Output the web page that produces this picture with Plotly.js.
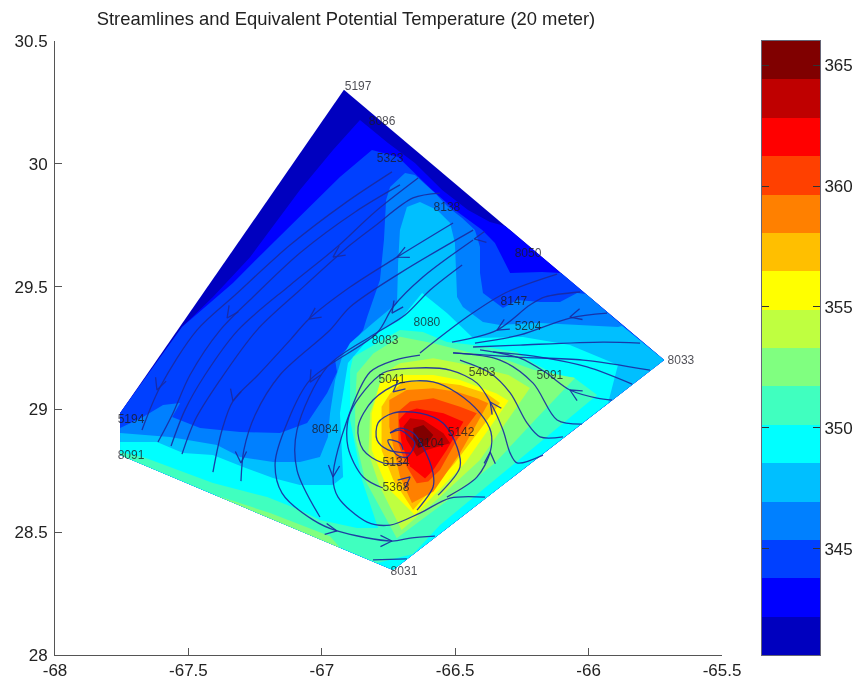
<!DOCTYPE html>
<html><head><meta charset="utf-8">
<script src="https://cdn.plot.ly/plotly-3.0.1.min.js"></script>
<style>html,body{margin:0;padding:0;background:#fff}#plot{width:858px;height:680px;filter:blur(0.4px)}</style>
</head><body><div id="plot"></div>
<script>
// Equivalent potential temperature bands (K), outlines, lowest band first
const bandColors=['#0000BF','#0000FF','#0040FF','#0080FF','#00BFFF','#00FFFF','#40FFBF','#80FF80','#BFFF40','#FFFF00','#FFBF00','#FF8000','#FF4000','#FF0000','#BF0000','#800000'];
const colorbarEdges=[340.6,342.19,343.78,345.36,346.95,348.54,350.13,351.71,353.3,354.89,356.48,358.06,359.65,361.24,362.83,364.41,366];
const b0X=[-66.917,-65.717,-66.733,-67.756,-67.756];
const b0Y=[30.301,29.201,28.346,28.814,28.985];
const b1X=[-67.524,-67.408,-67.269,-67.082,-66.958,-66.857,-66.752,-66.651,-66.549,-66.452,-66.370,-66.313,-65.717,-66.733,-67.756,-67.756];
const b1Y=[29.335,29.458,29.620,29.893,30.056,30.178,30.085,30.003,29.893,29.812,29.763,29.747,29.201,28.346,28.814,28.985];
const b2X=[-67.756,-67.524,-67.333,-67.183,-66.932,-66.812,-66.714,-66.587,-66.501,-66.399,-66.351,-66.294,-66.175,-66.103,-65.717,-66.733,-67.756];
const b2Y=[28.985,29.335,29.515,29.678,29.946,30.056,30.028,29.893,29.812,29.730,29.678,29.555,29.559,29.555,29.201,28.346,28.814];
const b3X=[-67.756,-67.670,-67.595,-67.531,-67.561,-67.456,-67.306,-67.157,-67.055,-66.980,-66.943,-66.950,-66.883,-66.845,-66.830,-66.782,-66.767,-66.759,-66.744,-66.688,-66.651,-66.576,-66.527,-66.474,-66.426,-66.407,-66.407,-66.396,-66.321,-66.268,-66.182,-66.107,-66.043,-66.010,-65.875,-65.717,-66.733,-67.756];
const b3Y=[28.924,28.969,29.018,29.026,28.969,28.924,28.908,28.904,28.945,29.067,29.152,29.201,29.270,29.323,29.376,29.527,29.690,29.853,29.906,29.963,29.954,29.881,29.824,29.779,29.730,29.661,29.555,29.474,29.413,29.445,29.437,29.437,29.474,29.470,29.344,29.201,28.346,28.814];
const b4X=[-67.756,-67.569,-67.393,-67.306,-67.183,-67.082,-67.007,-66.977,-66.969,-66.950,-66.924,-66.894,-66.808,-66.718,-66.714,-66.707,-66.681,-66.632,-66.568,-66.519,-66.501,-66.493,-66.471,-66.396,-66.332,-66.182,-65.890,-65.875,-65.717,-66.733,-67.756];
const b4Y=[28.904,28.888,28.855,28.806,28.786,28.786,28.806,28.888,28.985,29.120,29.213,29.270,29.352,29.433,29.596,29.730,29.824,29.844,29.812,29.759,29.678,29.458,29.417,29.356,29.344,29.352,29.335,29.340,29.201,28.346,28.814];
const b5X=[-67.756,-67.618,-67.520,-67.408,-67.295,-67.183,-67.082,-66.958,-66.920,-66.932,-66.902,-66.819,-66.707,-66.624,-66.531,-66.433,-66.246,-66.070,-65.890,-65.927,-66.733,-67.756];
const b5Y=[28.867,28.867,28.822,28.814,28.765,28.721,28.692,28.692,28.725,28.985,29.189,29.295,29.364,29.474,29.392,29.291,29.295,29.262,29.181,29.026,28.346,28.814];
const b6X=[-67.756,-67.670,-67.408,-67.205,-67.082,-67.007,-66.868,-66.789,-66.849,-66.894,-66.894,-66.883,-66.707,-66.621,-66.531,-66.433,-66.268,-66.208,-66.107,-66.058,-65.968,-66.295,-66.557,-66.658,-66.793,-67.756];
const b6Y=[28.826,28.806,28.700,28.643,28.590,28.550,28.517,28.517,28.712,28.957,29.160,29.213,29.323,29.315,29.274,29.262,29.234,29.189,29.132,29.132,29.059,28.765,28.529,28.411,28.375,28.814];
const b7X=[-66.869,-66.807,-66.707,-66.582,-66.457,-66.307,-66.207,-66.051,-66.201,-66.351,-66.494,-66.719,-66.838,-66.875,-66.875];
const b7Y=[29.147,29.228,29.296,29.269,29.235,29.201,29.161,29.128,28.957,28.782,28.658,28.475,28.713,28.889,29.011];
const b7EdgeX=[-67.400,-67.194,-66.969,-66.932];
const b7EdgeY=[28.651,28.578,28.484,28.437];
const b8X=[-66.769,-66.707,-66.582,-66.482,-66.300,-66.220,-66.407,-66.557,-66.701,-66.782,-66.825,-66.819];
const b8Y=[29.147,29.188,29.208,29.188,29.140,29.087,28.794,28.643,28.509,28.685,28.821,28.984];
const b9X=[-66.782,-66.694,-66.582,-66.482,-66.345,-66.300,-66.463,-66.651,-66.757,-66.813,-66.813];
const b9Y=[29.106,29.140,29.140,29.120,29.065,29.035,28.782,28.570,28.685,28.835,28.984];
const b10X=[-66.744,-66.694,-66.582,-66.482,-66.382,-66.332,-66.501,-66.658,-66.732,-66.776,-66.776];
const b10Y=[29.065,29.113,29.113,29.099,29.065,29.026,28.782,28.590,28.713,28.835,29.011];
const b11X=[-66.747,-66.682,-66.582,-66.494,-66.419,-66.376,-66.482,-66.582,-66.662,-66.707,-66.732,-66.747];
const b11Y=[29.038,29.079,29.086,29.072,29.045,29.025,28.821,28.665,28.619,28.726,28.848,28.930];
const b12X=[-66.713,-66.669,-66.582,-66.482,-66.419,-66.494,-66.557,-66.601,-66.644,-66.682,-66.713];
const b12Y=[28.991,29.032,29.045,29.011,28.984,28.875,28.753,28.706,28.699,28.767,28.862];
const b13X=[-66.682,-66.644,-66.544,-66.469,-66.532,-66.582,-66.613,-66.669,-66.701,-66.711];
const b13Y=[28.991,29.004,28.984,28.950,28.835,28.753,28.719,28.767,28.862,28.957];
const b14X=[-66.694,-66.669,-66.619,-66.544,-66.519,-66.607,-66.644,-66.682];
const b14Y=[28.930,28.964,28.957,28.903,28.862,28.835,28.808,28.875];
const b15X=[-66.657,-66.619,-66.582,-66.607,-66.638,-66.657];
const b15Y=[28.923,28.936,28.896,28.855,28.842,28.875];

// Streamlines
const streamA=[[-66.737,-66.913,-67.119,-67.325,-67.468,-67.606,-67.674],[29.967,29.840,29.669,29.466,29.323,29.091,28.916]];
const streamB=[[-66.707,-66.875,-67.082,-67.250,-67.381,-67.494,-67.561,-67.614],[29.914,29.804,29.637,29.466,29.323,29.140,28.977,28.867]];
const streamC=[[-66.639,-66.801,-66.943,-67.119,-67.314,-67.438,-67.513,-67.565],[29.942,29.804,29.661,29.506,29.323,29.140,28.997,28.851]];
const streamD=[[-66.557,-66.658,-66.801,-66.894,-67.082,-67.243,-67.381,-67.475,-67.524],[29.881,29.861,29.747,29.669,29.486,29.323,29.120,28.957,28.818]];
const streamE=[[-66.508,-66.718,-66.894,-67.048,-67.119,-67.239,-67.333,-67.374,-67.408],[29.759,29.620,29.498,29.368,29.282,29.140,29.034,28.916,28.745]];
const streamF=[[-66.433,-66.707,-66.894,-66.969,-67.157,-67.250,-67.292,-67.303],[29.730,29.555,29.417,29.323,29.140,28.977,28.835,28.708]];
const streamG=[[-66.433,-66.621,-66.733,-66.793,-67.044,-67.130,-67.175,-67.149,-67.033,-66.943,-66.737,-66.669,-66.576],[29.690,29.539,29.417,29.311,29.120,28.945,28.782,28.659,28.550,28.505,28.464,28.476,28.484]];
const streamH=[[-66.474,-66.594,-66.688,-66.808,-66.980,-67.093,-67.093,-67.007],[29.588,29.486,29.384,29.303,29.173,28.916,28.753,28.562]];
const streamI=[[-66.632,-66.726,-66.819,-66.905,-66.958,-66.939,-66.830,-66.744,-66.632,-66.519,-66.388],[29.221,29.201,29.152,28.957,28.725,28.643,28.541,28.529,28.578,28.639,28.643]];
const streamK1=[[-66.632,-66.456,-66.313,-66.118],[29.230,29.376,29.474,29.551]];
const streamK2=[[-66.512,-66.343,-66.220,-66.163,-66.032],[29.274,29.323,29.425,29.458,29.478]];
const streamK3=[[-66.426,-66.257,-66.070,-65.931],[29.270,29.303,29.372,29.392]];
const streamK4=[[-66.433,-66.257,-65.946,-65.807],[29.254,29.262,29.274,29.270]];
const streamK5=[[-66.508,-66.268,-66.021,-65.770],[29.230,29.213,29.201,29.160]];
const streamK6=[[-66.358,-66.182,-66.006,-65.837],[29.234,29.213,29.173,29.103]];
const streamM0=[[-66.508,-66.332,-66.208,-66.118,-66.025],[29.230,29.201,29.107,28.957,28.940]];
const streamM1=[[-66.482,-66.369,-66.294,-66.231,-66.182,-66.096],[29.201,29.148,29.067,28.945,28.888,28.888]];
const streamHook=[[-66.171,-66.268,-66.294,-66.321,-66.369,-66.418,-66.519,-66.658,-66.771,-66.894,-66.902,-66.845,-66.771],[28.814,28.782,28.822,28.916,29.030,29.107,29.160,29.168,29.148,28.985,28.847,28.725,28.680]];
const streamM3=[[-65.912,-65.968,-66.070,-66.163,-66.257,-66.407],[29.038,29.046,29.079,29.152,29.209,29.242]];
const streamS1=[[-66.531,-66.418,-66.369,-66.366,-66.407,-66.493,-66.583,-66.707,-66.808,-66.864,-66.845,-66.771,-66.681],[28.643,28.725,28.826,28.908,28.985,29.067,29.112,29.107,29.038,28.928,28.835,28.782,28.782]];
const streamS2=[[-66.564,-66.482,-66.493,-66.546,-66.632,-66.733,-66.789,-66.793,-66.752,-66.669],[28.651,28.765,28.847,28.945,28.985,28.985,28.945,28.875,28.835,28.822]];
const streamS3=[[-66.643,-66.583,-66.583,-66.621,-66.658,-66.707,-66.744],[28.590,28.684,28.741,28.847,28.904,28.924,28.904]];
const streamS4=[[-66.744,-66.707,-66.669,-66.651,-66.681,-66.718,-66.752,-66.707,-66.695],[28.904,28.916,28.888,28.863,28.806,28.814,28.875,28.863,28.835]];
const streamT=[[-66.808,-66.681],[28.387,28.391]];

// Arrow heads on the streamlines: tip longitude, tip latitude, flow direction in degrees
const arrowLon=[-66.958,-67.355,-67.048,-66.718,-66.429,-66.737,-66.343,-66.070,-67.618,-67.333,-67.303,-67.044,-66.958,-66.943,-66.737,-66.733,-66.369,-66.369,-66.070,-66.669];
const arrowLat=[29.620,29.372,29.368,29.620,29.694,29.392,29.323,29.376,29.079,29.034,28.782,29.111,28.725,28.505,28.464,29.071,28.826,29.030,29.079,28.725];
const arrowDir=[215,235,215,205,190,235,210,195,250,255,270,240,265,350,0,220,88,125,150,40];

// Station labels
const stationIds=['5197','8086','5323','8138','8050','8147','5204','8080','8083','5041','5403','5091','8033','5142','8104','5134','5368','8084','5194','8091','8031'];
const stationLon=[-66.864,-66.774,-66.744,-66.531,-66.227,-66.280,-66.227,-66.606,-66.763,-66.737,-66.399,-66.145,-65.654,-66.478,-66.592,-66.722,-66.722,-66.988,-67.715,-67.715,-66.692];
const stationLat=[30.313,30.170,30.020,29.820,29.633,29.437,29.335,29.352,29.278,29.120,29.148,29.136,29.197,28.904,28.859,28.782,28.680,28.916,28.957,28.810,28.338];

const xTicks=[-68,-67.5,-67,-66.5,-66,-65.5];
const xTickText=['-68','-67.5','-67','-66.5','-66','-65.5'];
const yTicks=[28,28.5,29,29.5,30,30.5];
const yTickText=['28','28.5','29','29.5','30','30.5'];
const cbTicks=[345,350,355,360,365];

const bands=[[b0X,b0Y,0],[b1X,b1Y,1],[b2X,b2Y,2],[b3X,b3Y,3],[b4X,b4Y,4],[b5X,b5Y,5],[b6X,b6Y,6],[b7EdgeX,b7EdgeY,7],[b7X,b7Y,7],[b8X,b8Y,8],[b9X,b9Y,9],[b10X,b10Y,10],[b11X,b11Y,11],[b12X,b12Y,12],[b13X,b13Y,13],[b14X,b14Y,14],[b15X,b15Y,15]];
const traces=bands.map(b=>({type:'scatter',mode:'lines',x:b[0],y:b[1],fill:'toself',fillcolor:bandColors[b[2]],line:{width:0,color:bandColors[b[2]]},hoverinfo:'skip',showlegend:false}));

const streams=[streamA,streamB,streamC,streamD,streamE,streamF,streamG,streamH,streamI,streamK1,streamK2,streamK3,streamK4,streamK5,streamK6,streamM0,streamM1,streamHook,streamM3,streamS1,streamS2,streamS3,streamS4,streamT];
const streamColor='#1A2AA0';
streams.forEach(s=>traces.push({type:'scatter',mode:'lines',x:s[0],y:s[1],line:{color:streamColor,width:1.3,shape:'spline',smoothing:0.9},opacity:.9,hoverinfo:'skip',showlegend:false}));

const barbX=[],barbY=[];
arrowLon.forEach((lon,i)=>{
  const a=arrowDir[i]*Math.PI/180, s=26*Math.PI/180, bx=0.048, by=0.052;
  barbX.push(lon+bx*Math.cos(a+Math.PI-s),lon,lon+bx*Math.cos(a+Math.PI+s),null);
  barbY.push(arrowLat[i]+by*Math.sin(a+Math.PI-s),arrowLat[i],arrowLat[i]+by*Math.sin(a+Math.PI+s),null);
});
traces.push({type:'scatter',mode:'lines',x:barbX,y:barbY,line:{color:streamColor,width:1.3},opacity:.9,hoverinfo:'skip',showlegend:false});

traces.push({type:'scatter',mode:'text',x:stationLon,y:stationLat,text:stationIds,textposition:'middle center',textfont:{family:'Liberation Sans, Arial, sans-serif',size:12,color:'rgba(25,25,35,0.78)'},hoverinfo:'skip',showlegend:false});

traces.push({type:'bar',xaxis:'x2',yaxis:'y2',x:bandColors.map(()=>0.5),width:1,
  y:bandColors.map((c,i)=>colorbarEdges[i+1]-colorbarEdges[i]),base:colorbarEdges.slice(0,16),
  marker:{color:bandColors,line:{width:0}},hoverinfo:'skip',showlegend:false});

const axisColor='#555';
const tickFont={family:'Liberation Sans, Arial, sans-serif',size:17,color:'#222'};
const layout={
  width:858,height:680,paper_bgcolor:'#fff',plot_bgcolor:'#fff',showlegend:false,
  margin:{l:55,r:38,t:41,b:25,pad:0},
  title:{text:'Streamlines and Equivalent Potential Temperature (20 meter)',x:346/858,xanchor:'center',y:1-19/680,yanchor:'middle',font:{family:'Liberation Sans, Arial, sans-serif',size:18.4,color:'#222'}},
  xaxis:{domain:[0,667/765],range:[-68,-65.5],tickmode:'array',tickvals:xTicks,ticktext:xTickText,ticks:'inside',ticklen:7,tickcolor:axisColor,showgrid:false,zeroline:false,showline:true,linecolor:axisColor,linewidth:1,tickfont:tickFont},
  yaxis:{domain:[0,1],range:[28,30.5],tickmode:'array',tickvals:yTicks,ticktext:yTickText,ticks:'inside',ticklen:7,tickcolor:axisColor,showgrid:false,zeroline:false,showline:true,linecolor:axisColor,linewidth:1,tickfont:tickFont,ticklabelstandoff:3},
  xaxis2:{domain:[707/765,1],range:[0,1],anchor:'y2',showticklabels:false,ticks:'',showgrid:false,zeroline:false,showline:true,linecolor:'#667',linewidth:1,mirror:true},
  yaxis2:{domain:[0,1],range:[340.6,366],anchor:'x2',side:'right',tickmode:'array',tickvals:cbTicks,ticks:'inside',ticklen:7,tickcolor:'#333',showgrid:false,zeroline:false,showline:true,linecolor:'#667',linewidth:1,mirror:'ticks',tickfont:tickFont},
  bargap:0
};
Plotly.newPlot('plot',traces,layout,{displayModeBar:false,staticPlot:true});
</script></body></html>
